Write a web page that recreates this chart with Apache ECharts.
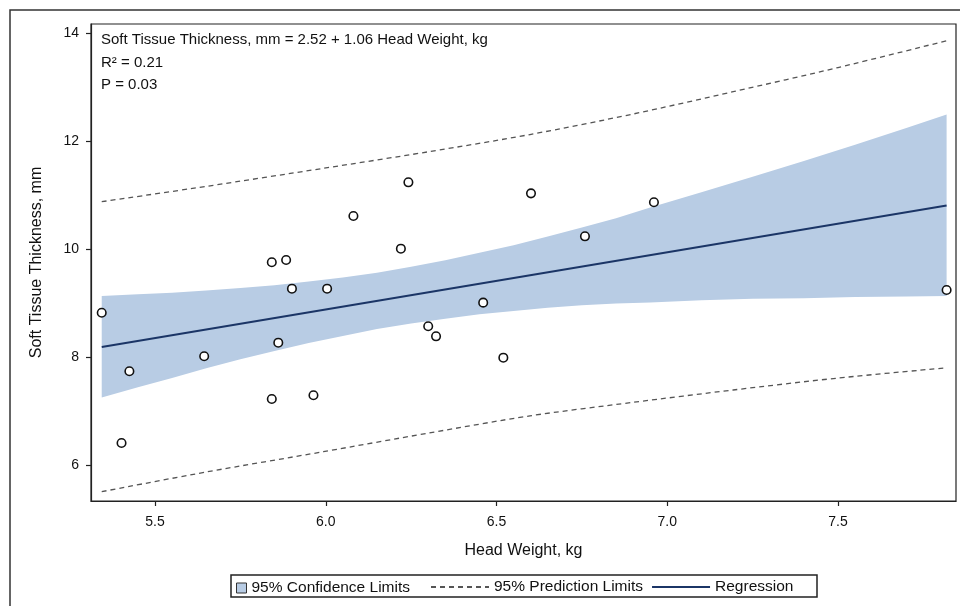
<!DOCTYPE html>
<html>
<head>
<meta charset="utf-8">
<script src="https://cdn.jsdelivr.net/npm/echarts@6/dist/echarts.min.js"></script>
<style>html,body{margin:0;padding:0;background:#fff;}#c{width:960px;height:606px;}</style>
</head>
<body>
<div id="c"></div>
<script>
// Observed data points
var headWeight = [5.344,5.425,5.402,5.644,5.842,5.884,5.901,5.861,5.842,5.964,6.004,6.081,6.220,6.242,6.300,6.323,6.461,6.520,6.601,6.759,6.961,7.818];
var thickness  = [8.82,7.735,6.407,8.013,9.754,9.796,9.265,8.265,7.222,7.291,9.265,10.611,10.006,11.235,8.569,8.383,9.006,7.987,11.031,10.235,10.865,9.241];

// Regression line end points
var regX = [5.344, 7.818];
var regY = [8.185, 10.807];

// 95% confidence limits
var ciX     = [5.344,5.45,5.55,5.65,5.75,5.85,5.95,6.05,6.15,6.25,6.35,6.45,6.55,6.65,6.75,6.85,6.95,7.1,7.25,7.4,7.55,7.7,7.818];
var ciUpper = [9.13,9.16,9.19,9.23,9.28,9.33,9.40,9.47,9.56,9.67,9.79,9.93,10.07,10.23,10.40,10.57,10.77,11.05,11.34,11.63,11.93,12.24,12.49];
var ciLower = [7.25,7.44,7.61,7.79,7.96,8.11,8.26,8.39,8.52,8.62,8.71,8.79,8.85,8.91,8.96,8.99,9.01,9.05,9.08,9.09,9.11,9.12,9.13];

// 95% prediction limits
var piX     = [5.344,5.65,5.993,6.3,6.598,6.9,7.193,7.5,7.818];
var piUpper = [10.876,11.16,11.494,11.80,12.12,12.50,12.913,13.36,13.857];
var piLower = [5.506,5.87,6.246,6.59,6.91,7.16,7.389,7.61,7.80];

// Tick labels
var xTicks = [5.5, 6.0, 6.5, 7.0, 7.5];
var yTicks = [6, 8, 10, 12, 14];

var annotation = ['Soft Tissue Thickness, mm = 2.52 + 1.06 Head Weight, kg', 'R\u00B2 = 0.21', 'P = 0.03'];

var FONT = '"Liberation Sans", Arial, Helvetica, sans-serif';
var BAND = '#b8cce4';

function pairs(xs, ys){ return xs.map(function(x,i){ return [x, ys[i]]; }); }

var chart = echarts.init(document.getElementById('c'), null, {renderer:'canvas'});
chart.setOption({
  animation: false,
  backgroundColor: '#fff',
  textStyle: {fontFamily: FONT},
  grid: {left: 91, top: 24, right: 4, bottom: 105, show: true, borderColor: '#222', borderWidth: 1.2, backgroundColor: 'transparent'},
  xAxis: {
    type: 'value', min: 5.3126, max: 7.8455,
    name: 'Head Weight, kg', nameLocation: 'middle', nameGap: 42,
    nameTextStyle: {fontSize: 16, color: '#111', fontFamily: FONT},
    axisLine: {show: true, lineStyle: {color: '#222', width: 1.2}},
    axisTick: {show: true, inside: false, length: 5, lineStyle: {color: '#222', width: 1.2}, customValues: xTicks},
    axisLabel: {fontSize: 14, color: '#111', margin: 14, fontFamily: FONT, customValues: xTicks,
      formatter: function(v){ return Number(v).toFixed(1); }},
    splitLine: {show: false}
  },
  yAxis: {
    type: 'value', min: 5.333, max: 14.167,
    name: 'Soft Tissue Thickness, mm', nameLocation: 'middle', nameGap: 46, nameRotate: 90,
    nameTextStyle: {fontSize: 16, color: '#111', fontFamily: FONT},
    axisLine: {show: true, lineStyle: {color: '#222', width: 1.2}},
    axisTick: {show: true, inside: false, length: 5, lineStyle: {color: '#222', width: 1.2}, customValues: yTicks},
    axisLabel: {fontSize: 14, color: '#111', margin: 12, fontFamily: FONT, customValues: yTicks,
      formatter: function(v){ return String(v); }},
    splitLine: {show: false}
  },
  legend: [
    {
      left: 236, top: 580, padding: 0, itemWidth: 10, itemHeight: 10, itemGap: 10,
      textStyle: {fontSize: 15.5, color: '#111', fontFamily: FONT},
      data: [{name: '95% Confidence Limits', icon: 'rect', itemStyle: {color: BAND, borderColor: '#333', borderWidth: 1}}]
    },
    {
      left: 430, top: 579, padding: 0, itemWidth: 58, itemHeight: 14, itemGap: 8,
      textStyle: {fontSize: 15.5, color: '#111', fontFamily: FONT},
      data: [
        {name: '95% Prediction Limits', itemStyle: {opacity: 0}},
        {name: 'Regression', itemStyle: {opacity: 0}}
      ]
    }
  ],
  graphic: [
    {type: 'rect', z: -10, silent: true, shape: {x: 10, y: 10, width: 970, height: 620}, style: {fill: 'none', stroke: '#333', lineWidth: 1.5}},
    {type: 'rect', z: -5, silent: true, shape: {x: 231, y: 575, width: 586, height: 22}, style: {fill: '#fff', stroke: '#222', lineWidth: 1.5}},
    {type: 'text', left: 101, top: 32, silent: true, style: {text: annotation[0], fontSize: 15, fontFamily: FONT, fill: '#111'}},
    {type: 'text', left: 101, top: 55, silent: true, style: {text: annotation[1], fontSize: 15, fontFamily: FONT, fill: '#111'}},
    {type: 'text', left: 101, top: 77, silent: true, style: {text: annotation[2], fontSize: 15, fontFamily: FONT, fill: '#111'}}
  ],
  series: [
    {
      name: '95% Confidence Limits', type: 'custom', z: 1, silent: true,
      itemStyle: {color: BAND},
      data: [[ciX[0], ciLower[0]]],
      renderItem: function(params, api){
        var pts = [], i;
        for (i = 0; i < ciX.length; i++) pts.push(api.coord([ciX[i], ciUpper[i]]));
        for (i = ciX.length - 1; i >= 0; i--) pts.push(api.coord([ciX[i], ciLower[i]]));
        return {type: 'polygon', shape: {points: pts}, style: {fill: BAND}};
      }
    },
    {
      name: '95% Prediction Limits', type: 'line', z: 2, symbol: 'none', silent: true, smooth: 0.3,
      data: pairs(piX, piUpper),
      itemStyle: {color: '#555'},
      lineStyle: {color: '#555', width: 1.3, type: [5, 4]}
    },
    {
      name: '95% Prediction Limits', type: 'line', z: 2, symbol: 'none', silent: true, smooth: 0.3,
      data: pairs(piX, piLower),
      itemStyle: {color: '#555'},
      lineStyle: {color: '#555', width: 1.3, type: [5, 4]}
    },
    {
      name: 'Regression', type: 'line', z: 3, symbol: 'none', silent: true,
      data: pairs(regX, regY),
      itemStyle: {color: '#1b3566'},
      lineStyle: {color: '#1b3566', width: 2}
    },
    {
      name: 'Observed', type: 'scatter', z: 4, silent: true,
      symbol: 'circle', symbolSize: 8.5,
      data: pairs(headWeight, thickness),
      itemStyle: {color: '#fff', borderColor: '#111', borderWidth: 1.6, opacity: 1}
    }
  ]
});
</script>
</body>
</html>
